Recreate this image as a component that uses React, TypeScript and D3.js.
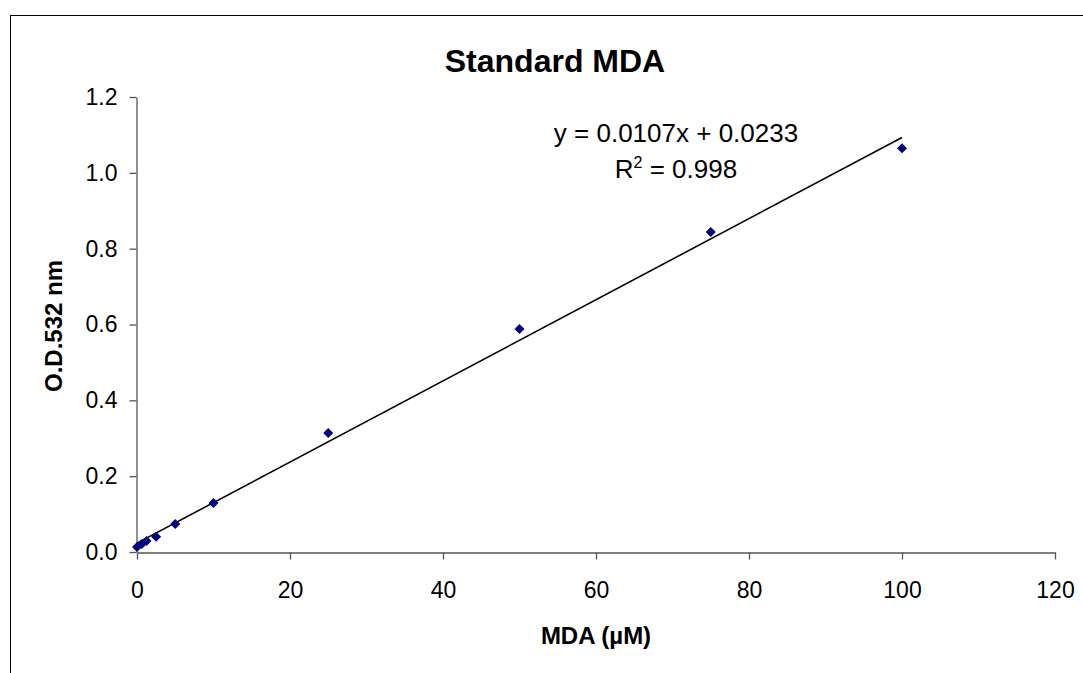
import React, { useEffect, useRef } from "react";
import * as d3 from "d3";

// MDA concentration (µM) and measured absorbance at 532 nm
const concentrations = [0, 0.625, 1.25, 2.5, 5, 10, 25, 50, 75, 100];
const absorbance = [0.013, 0.021, 0.029, 0.040, 0.074, 0.129, 0.314, 0.588, 0.844, 1.065];
const xTicks = [0, 20, 40, 60, 80, 100, 120];
const yTicks = [0, 0.2, 0.4, 0.6, 0.8, 1.0, 1.2];
const slope = 0.0107;
const intercept = 0.0233;
const fitRange = [0, 100];

const App = () => {
  const ref = useRef<SVGSVGElement | null>(null);

  useEffect(() => {
    const width = 1083;
    const height = 673;
    const margin = { top: 97, right: 28, bottom: 121, left: 137 };
    const innerWidth = width - margin.left - margin.right;
    const innerHeight = height - margin.top - margin.bottom;
    const font = "Arial, 'Liberation Sans', sans-serif";

    const svg = d3.select(ref.current);
    svg.selectAll("*").remove();
    svg.attr("width", width).attr("height", height);

    svg.append("rect")
      .attr("width", width)
      .attr("height", height)
      .attr("fill", "white");

    // chart area border (continues past the picture edge)
    svg.append("rect")
      .attr("x", 10.5)
      .attr("y", 15.5)
      .attr("width", 1200)
      .attr("height", 800)
      .attr("fill", "none")
      .attr("stroke", "#000")
      .attr("stroke-width", 1);

    const g = svg.append("g")
      .attr("transform", `translate(${margin.left}, ${margin.top})`);

    const x = d3.scaleLinear().domain([0, 120]).range([0, innerWidth]);
    const y = d3.scaleLinear().domain([0, 1.2]).range([innerHeight, 0]);

    const xAxis = g.append("g")
      .attr("transform", `translate(0, ${innerHeight + 0.5})`)
      .call(d3.axisBottom(x).tickValues(xTicks).tickSize(7).tickSizeOuter(0).tickPadding(22).tickFormat(d3.format("d")));

    const yAxis = g.append("g")
      .attr("transform", "translate(-0.5, 0)")
      .call(d3.axisLeft(y).tickValues(yTicks).tickSize(7).tickSizeOuter(0).tickPadding(12).tickFormat(d3.format(".1f")));

    [xAxis, yAxis].forEach(ax => {
      ax.select(".domain").attr("stroke", "#555").attr("stroke-width", 1.3);
      ax.selectAll(".tick line").attr("stroke", "#555").attr("stroke-width", 1.3);
      ax.selectAll("text")
        .attr("fill", "#000")
        .style("font-family", font)
        .style("font-size", "23px");
    });

    // trendline
    g.append("line")
      .attr("x1", x(fitRange[0]))
      .attr("y1", y(slope * fitRange[0] + intercept))
      .attr("x2", x(fitRange[1]))
      .attr("y2", y(slope * fitRange[1] + intercept))
      .attr("stroke", "#000")
      .attr("stroke-width", 1.6);

    // data markers
    const diamond = d3.symbol().type(d3.symbolDiamond2).size(64);
    g.selectAll(".pt")
      .data(concentrations)
      .enter().append("path")
      .attr("class", "pt")
      .attr("d", diamond)
      .attr("transform", (d, i) => `translate(${x(d)}, ${y(absorbance[i])})`)
      .attr("fill", "#000080");

    // title
    svg.append("text")
      .attr("x", 555)
      .attr("y", 72)
      .attr("text-anchor", "middle")
      .style("font-family", font)
      .style("font-size", "32px")
      .style("font-weight", "bold")
      .text("Standard MDA");

    // axis titles
    svg.append("text")
      .attr("x", 596)
      .attr("y", 644)
      .attr("text-anchor", "middle")
      .style("font-family", font)
      .style("font-size", "24px")
      .style("font-weight", "bold")
      .text("MDA (µM)");

    svg.append("text")
      .attr("transform", "translate(62, 326) rotate(-90)")
      .attr("text-anchor", "middle")
      .style("font-family", font)
      .style("font-size", "24px")
      .style("font-weight", "bold")
      .text("O.D.532 nm");

    // equation
    svg.append("text")
      .attr("x", 676)
      .attr("y", 142)
      .attr("text-anchor", "middle")
      .style("font-family", font)
      .style("font-size", "26px")
      .text(`y = ${slope}x + ${intercept}`);

    const r2 = svg.append("text")
      .attr("x", 676)
      .attr("y", 178)
      .attr("text-anchor", "middle")
      .style("font-family", font)
      .style("font-size", "26px");
    r2.append("tspan").text("R");
    r2.append("tspan").attr("dy", -10).style("font-size", "16px").text("2");
    r2.append("tspan").attr("dy", 10).text(" = 0.998");
  }, []);

  return (
    <svg
      ref={ref}
      style={{ position: "absolute", left: 0, top: 0, display: "block" }}
    />
  );
};

export default App;
